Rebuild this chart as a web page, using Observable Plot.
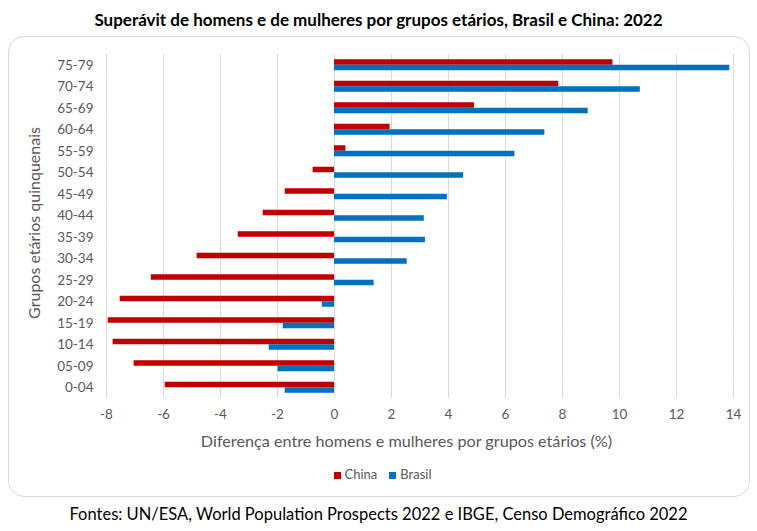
<!DOCTYPE html>
<html>
<head>
<meta charset="utf-8">
<script src="https://cdn.jsdelivr.net/npm/d3@7"></script>
<script src="https://cdn.jsdelivr.net/npm/@observablehq/plot@0.6"></script>
<style>
  html, body { margin: 0; padding: 0; background: #fff; }
  #page { position: relative; width: 757px; height: 531px; overflow: hidden; font-family: Lato, "Open Sans", sans-serif; }
  #title { position: absolute; left: 0; width: 757px; top: 9px; text-align: center; font-weight: bold; font-size: 17px; color: #000; }
  #box { position: absolute; left: 8px; top: 36px; width: 742px; height: 461px; border: 1px solid #d9d9d9; border-radius: 16px; box-sizing: border-box; }
  #chart { position: absolute; left: 0; top: 36px; }
  #ytitle { position: absolute; left: 33px; top: 223px; transform: translate(-50%, -50%) rotate(-90deg); white-space: nowrap; font-size: 16px; color: #595959; }
  #xtitle { position: absolute; left: 93px; width: 627px; top: 431px; text-align: center; font-size: 16.2px; color: #595959; }
  #legend { position: absolute; left: 4px; width: 757px; top: 466px; text-align: center; font-size: 13px; color: #595959; }
  #legend span.sw { display: inline-block; width: 7px; height: 7px; margin-right: 4px; vertical-align: 0px; }
  #legend span.item { margin: 0 6px; }
  #caption { position: absolute; left: 0; width: 757px; top: 504px; text-align: center; font-size: 16.5px; color: #000; }
</style>
</head>
<body>
<div id="page">
  <div id="title">Superávit de homens e de mulheres por grupos etários, Brasil e China: 2022</div>
  <div id="box"></div>
  <div id="chart"></div>
  <div id="ytitle">Grupos etários quinquenais</div>
  <div id="xtitle">Diferença entre homens e mulheres por grupos etários (%)</div>
  <div id="legend"></div>
  <div id="caption">Fontes: UN/ESA, World Population Prospects 2022 e IBGE, Censo Demográfico 2022</div>
</div>
<script>
const ageGroups = ["75-79","70-74","65-69","60-64","55-59","50-54","45-49","40-44","35-39","30-34","25-29","20-24","15-19","10-14","05-09","0-04"];
const chinaValues = [9.77, 7.87, 4.91, 1.95, 0.40, -0.75, -1.73, -2.50, -3.38, -4.82, -6.43, -7.52, -7.94, -7.77, -7.03, -5.94];
const brasilValues = [13.87, 10.73, 8.90, 7.38, 6.33, 4.53, 3.96, 3.15, 3.19, 2.55, 1.39, -0.43, -1.80, -2.29, -1.98, -1.73];
const seriesNames = ["China", "Brasil"];
const seriesColors = ["#c00000", "#0070c0"];
const xTicks = [-8, -6, -4, -2, 0, 2, 4, 6, 8, 10, 12, 14];

const rows = [];
ageGroups.forEach((g, i) => {
  rows.push({age: g, series: "China", value: chinaValues[i]});
  rows.push({age: g, series: "Brasil", value: brasilValues[i]});
});

const chart = Plot.plot({
  width: 757,
  height: 390,
  marginTop: 18,
  marginBottom: 28,
  marginLeft: 106,
  marginRight: 24,
  style: {fontFamily: "Lato, 'Open Sans', sans-serif", fontSize: "13.5px", color: "#595959", background: "transparent", overflow: "visible"},
  x: {domain: [xTicks[0], xTicks[xTicks.length - 1]], ticks: xTicks, tickSize: 0, tickPadding: 11, tickFormat: d => String(d), label: null},
  fy: {domain: ageGroups, padding: 0, round: false, label: null, tickSize: 0, tickPadding: 13, axis: "left"},
  y: {domain: seriesNames, axis: null, paddingInner: 0, paddingOuter: 0.95, round: false},
  color: {domain: seriesNames, range: seriesColors},
  marks: [
    Plot.gridX(xTicks, {stroke: "#d9d9d9", strokeOpacity: 1, strokeWidth: 1}),
    Plot.barX(rows, {x: "value", y: "series", fy: "age", fill: "series"})
  ]
});
document.getElementById("chart").appendChild(chart);

const legend = document.getElementById("legend");
seriesNames.forEach((s, i) => {
  const item = document.createElement("span");
  item.className = "item";
  const sw = document.createElement("span");
  sw.className = "sw";
  sw.style.background = seriesColors[i];
  item.appendChild(sw);
  item.appendChild(document.createTextNode(s));
  legend.appendChild(item);
});
</script>
</body>
</html>
